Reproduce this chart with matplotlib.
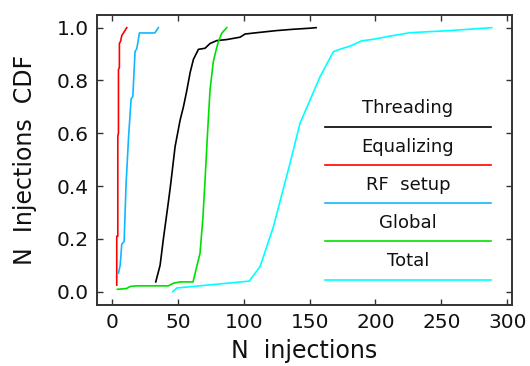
import matplotlib
matplotlib.use('Agg')
import matplotlib.pyplot as plt

# CDF curves of the number of injections per stage
thr_x = [33.2, 36.5, 39.0, 42.8, 44.6, 47.9, 51.7, 54.2, 56.7, 59.3, 61.8, 65.6, 70.6,
         74.4, 79.5, 87.1, 97.2, 101.0, 109.9, 125.0, 137.6, 150.3, 154.9]
thr_y = [0.037, 0.10, 0.20, 0.34, 0.41, 0.55, 0.65, 0.70, 0.76, 0.83, 0.88, 0.918, 0.922,
         0.94, 0.951, 0.955, 0.964, 0.976, 0.981, 0.989, 0.994, 0.998, 1.0]

equ_x = [3.6, 3.6, 4.4, 4.4, 4.9, 4.9, 5.6, 5.6, 6.6, 7.4, 8.7, 11.2]
equ_y = [0.025, 0.21, 0.21, 0.59, 0.60, 0.84, 0.85, 0.94, 0.95, 0.97, 0.98, 1.0]

rf_x = [4.9, 6.2, 7.4, 9.2, 10.7, 12.5, 14.5, 15.8, 17.5, 18.8, 20.8, 32.5, 35.2]
rf_y = [0.07, 0.10, 0.18, 0.19, 0.41, 0.58, 0.73, 0.74, 0.91, 0.92, 0.98, 0.98, 1.0]

glob_x = [4.1, 11.0, 14.0, 18.8, 42.8, 46.6, 51.7, 61.5, 63.1, 66.8, 69.0, 70.6, 72.5,
          74.4, 76.9, 79.0, 80.7, 83.3, 87.1]
glob_y = [0.009, 0.012, 0.02, 0.022, 0.022, 0.032, 0.037, 0.037, 0.07, 0.145, 0.28, 0.42,
          0.60, 0.764, 0.871, 0.915, 0.947, 0.979, 1.0]

tot_x = [46.1, 49.2, 104.2, 112.4, 122.5, 135.1, 142.7, 150.3, 157.9, 168.0, 174.0, 180.6,
         189.5, 198.3, 211.0, 226.2, 256.5, 288.2]
tot_y = [0.0, 0.014, 0.04, 0.095, 0.246, 0.486, 0.638, 0.726, 0.814, 0.909, 0.92, 0.93,
         0.95, 0.956, 0.968, 0.981, 0.989, 1.0]

labels = ['Threading', 'Equalizing', 'RF  setup', 'Global', 'Total']
colors = ['black', '#ff0000', '#10b8ff', '#00e000', '#00ffff']
series = [(thr_x, thr_y), (equ_x, equ_y), (rf_x, rf_y), (glob_x, glob_y), (tot_x, tot_y)]

xticks = [0, 50, 100, 150, 200, 250, 300]
yticks = [0.0, 0.2, 0.4, 0.6, 0.8, 1.0]

plt.rcParams['font.family'] = 'DejaVu Sans'

fig = plt.figure(figsize=(5.3, 3.66), dpi=100)
ax = fig.add_axes([0.183, 0.167, 0.783, 0.792])

for (x, y), c in zip(series, colors):
    ax.plot(x, y, color=c, lw=1.2)

# legend drawn as text above a line segment
for i, (lab, c) in enumerate(zip(labels, colors)):
    ly = 0.615 - i * 0.132
    ax.plot([0.549, 0.949], [ly, ly], color=c, lw=1.2, transform=ax.transAxes)
    ax.text(0.749, ly + 0.063, lab, ha='center', va='center', fontsize=13,
            color='#111111', transform=ax.transAxes)

ax.set_xlim(-11.4, 303.6)
ax.set_ylim(-0.05, 1.048)
ax.set_xticks(xticks)
ax.set_yticks(yticks)
ax.set_xticklabels([str(t) for t in xticks])
ax.set_yticklabels(['%.1f' % t for t in yticks])
ax.tick_params(direction='in', top=True, right=True, length=4, width=1,
               labelsize=14.5, color='#333333', labelcolor='#111111', pad=6)
for s in ax.spines.values():
    s.set_linewidth(1.4)
    s.set_color('#333333')

ax.set_xlabel('N  injections', fontsize=17, labelpad=5, color='#111111')
ax.set_ylabel('N  Injections  CDF', fontsize=17, labelpad=14, color='#111111')

fig.savefig('out.png', dpi=100)
